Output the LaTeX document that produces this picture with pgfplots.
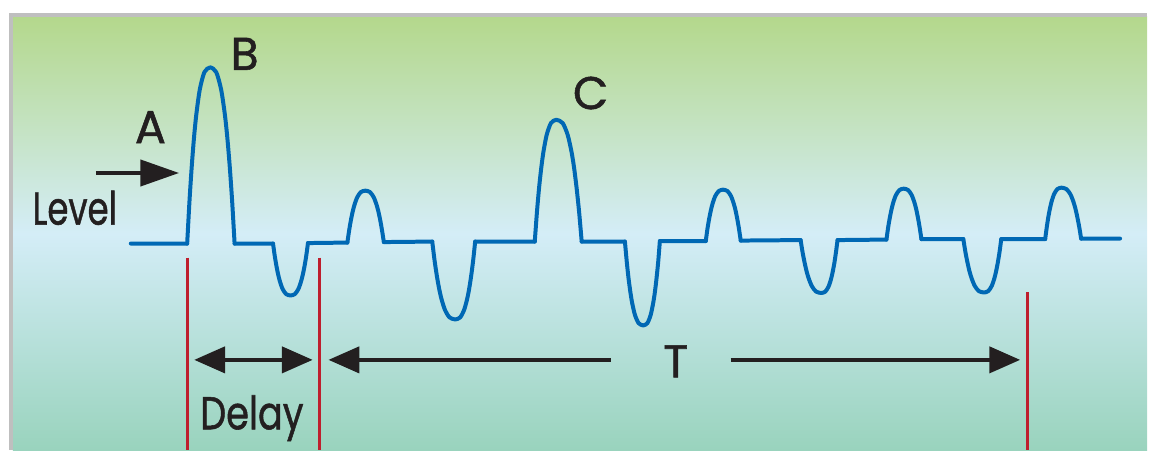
\documentclass[border=0pt]{standalone}
\usepackage{fontspec}
\setmainfont{Poppins}
\newfontfamily\lblfont{Poppins}[FakeBold=1.2]
\usepackage{pgfplots}
\pgfplotsset{compat=1.18}
\usetikzlibrary{arrows.meta}

\definecolor{wave}{RGB}{0,104,180}
\definecolor{marker}{RGB}{190,30,45}
\definecolor{ink}{RGB}{35,31,32}
\definecolor{frame}{RGB}{191,191,191}
\definecolor{bgtop}{RGB}{180,216,140}
\definecolor{bgmid}{RGB}{212,237,247}
\definecolor{bgbot}{RGB}{153,211,189}

\tikzset{lbl/.style={text=ink, inner sep=0pt, anchor=base, font=\lblfont\fontsize{23}{26}\selectfont}}

\begin{document}
\begin{tikzpicture}
\begin{axis}[
    width=574.5pt, height=225.5pt, scale only axis,
    xmin=0, xmax=1149, ymin=0, ymax=451,
    y dir=reverse,
    hide axis, clip=false,
    unbounded coords=jump,
    pulse/.style={wave, line width=2pt, smooth, tension=0.45, line cap=round, line join=round, no markers},
    arr/.style={ink, line width=2.2pt, no markers},
]
% page and background
\addplot[fill=white, draw=none] coordinates {(0,0) (1149,0) (1149,451) (0,451)} -- cycle;
\addplot[draw=none, top color=bgtop, bottom color=bgbot, middle color=bgmid]
    coordinates {(13,17) (1149,17) (1149,451) (13,451)} -- cycle;
\addplot[frame, line width=2pt, no markers] coordinates {(11,451) (11,15.3) (1149,15.3)};

% flat parts of the signal
\addplot[wave, line width=2pt, line cap=round, no markers] coordinates {
    (131,244) (187.5,244) (200,inf)
    (235,244) (273.5,244) (290,inf)
    (308.5,243.5) (348,243) (360,inf)
    (384.5,242.5) (433,242) (450,inf)
    (476,242) (535.7,242) (550,inf)
    (582.7,242) (626,242) (640,inf)
    (661,241.5) (707,241.5) (720,inf)
    (742,241) (802,240.5) (820,inf)
    (839,240.5) (888,240) (900,inf)
    (923,239.5) (965,239.5) (980,inf)
    (1003,239.5) (1047,239.5) (1060,inf)
    (1083,239) (1122,239)
};

% pulses
\addplot[pulse] coordinates {(187.5,244) (189.8,201.6) (192.1,166.3) (194.4,137.2) (196.7,114.3) (200.15,89.6) (204.75,72.3) (210.5,67.5) (216.6,72.3) (221.5,89.6) (225.2,114.3) (227.65,137.2) (230.1,166.3) (232.55,201.6) (235,244)};
\addplot[pulse] coordinates {(273.5,244) (275.25,256.5) (277,266.9) (278.75,275.5) (280.5,282.2) (283.1,289.5) (286.6,294.6) (291,296) (295.4,294.6) (298.9,289.5) (301.5,282.2) (303.25,275.5) (305,266.9) (306.75,256.5) (308.5,243.5)};
\addplot[pulse] coordinates {(348,243) (349.8,230.5) (351.6,220.1) (353.4,211.5) (355.2,204.8) (357.9,197.5) (361.5,192.4) (366,191) (370.6,192.4) (374.3,197.5) (377.1,204.8) (378.95,211.5) (380.8,220.1) (382.65,230.5) (384.5,242.5)};
\addplot[pulse] coordinates {(433,242) (435.3,260.7) (437.6,276.3) (439.9,289.2) (442.2,299.3) (445.65,310.25) (450.25,317.9) (456,320) (461,317.9) (465,310.25) (468,299.3) (470,289.2) (472,276.3) (474,260.7) (476,242)};
\addplot[pulse] coordinates {(535.7,242) (537.85,212.7) (540,188.3) (542.2,168.2) (544.35,152.3) (547.6,135.25) (551.9,123.3) (557.3,120) (563.65,123.3) (568.7,135.25) (572.55,152.3) (575.1,168.2) (577.6,188.3) (580.15,212.7) (582.7,242)};
\addplot[pulse] coordinates {(626,242) (627.85,262.2) (629.65,279) (631.5,292.8) (633.3,303.7) (636.05,315.5) (639.7,323.7) (644.3,326) (648.5,323.7) (651.8,315.5) (654.3,303.7) (656,292.8) (657.65,279) (659.35,262.2) (661,241.5)};
\addplot[pulse] coordinates {(707,241.5) (708.7,229.1) (710.45,218.8) (712.2,210.3) (713.9,203.6) (716.5,196.4) (720,191.4) (724.3,190) (728.7,191.4) (732.25,196.4) (734.9,203.6) (736.7,210.3) (738.45,218.8) (740.25,229.1) (742,241)};
\addplot[pulse] coordinates {(802,240.5) (804.05,253.2) (806.15,263.8) (808.2,272.6) (810.3,279.5) (813.4,286.9) (817.5,292.1) (822.7,293.5) (826.8,292.1) (830.05,286.9) (832.5,279.5) (834.1,272.6) (835.75,263.8) (837.35,253.2) (839,240.5)};
\addplot[pulse] coordinates {(888,240) (889.7,227.8) (891.45,217.6) (893.2,209.1) (894.9,202.5) (897.5,195.4) (901,190.4) (905.3,189) (909.7,190.4) (913.25,195.4) (915.9,202.5) (917.7,209.1) (919.45,217.6) (921.25,227.8) (923,239.5)};
\addplot[pulse] coordinates {(965,239.5) (967.05,252.3) (969.15,263) (971.2,271.9) (973.3,278.8) (976.4,286.3) (980.5,291.6) (985.7,293) (990,291.6) (993.5,286.3) (996.1,278.8) (997.8,271.9) (999.55,263) (1001.3,252.3) (1003,239.5)};
\addplot[pulse] coordinates {(1047,239.5) (1048.65,227.1) (1050.25,216.8) (1051.9,208.3) (1053.5,201.6) (1055.95,194.4) (1059.2,189.4) (1063.3,188) (1068.2,189.4) (1072.15,194.4) (1075.1,201.6) (1077.1,208.3) (1079.05,216.8) (1081.05,227.1) (1083,239)};

% red markers
\addplot[marker, line width=1.4pt, no markers] coordinates {(188,258) (188,451)};
\addplot[marker, line width=1.4pt, no markers] coordinates {(320,258) (320,451)};
\addplot[marker, line width=1.4pt, no markers] coordinates {(1029,293) (1029,451)};

% arrows
\addplot[arr, -{Triangle[length=19.5pt, width=13pt]}] coordinates {(96,173.3) (179.5,173.3)};
\addplot[arr, {Triangle[length=15.5pt, width=13pt]}-{Triangle[length=15.5pt, width=13pt]}] coordinates {(194.5,360.5) (313.3,360.5)};
\addplot[arr, {Triangle[length=15.5pt, width=13pt]}-] coordinates {(329,360.5) (612,360.5)};
\addplot[arr, -{Triangle[length=15.5pt, width=13pt]}] coordinates {(732,360.5) (1022,360.5)};

% labels
\node[lbl] at (axis cs:150.7,143.3) {A};
\node[lbl] at (axis cs:245,70) {B};
\node[lbl] at (axis cs:591.7,109.3) {C};
\node[lbl, xscale=0.74] at (axis cs:75,225) {Level};
\node[lbl, xscale=0.8] at (axis cs:252.3,430) {Delay};
\node[lbl] at (axis cs:677,378) {T};
\end{axis}
\end{tikzpicture}
\end{document}
